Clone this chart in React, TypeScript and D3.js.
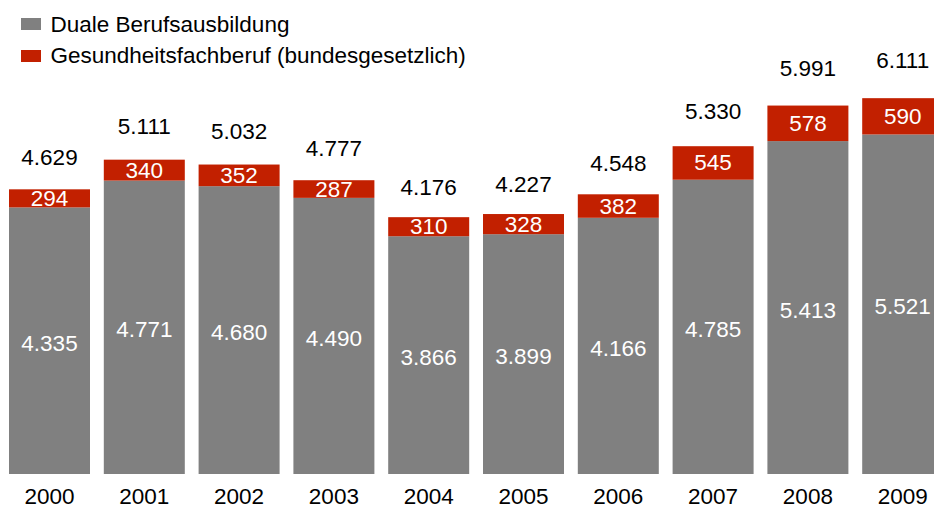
import React from "react";
import * as d3 from "d3";

const years = ["2000", "2001", "2002", "2003", "2004", "2005", "2006", "2007", "2008", "2009"];
const dual = [4335, 4771, 4680, 4490, 3866, 3899, 4166, 4785, 5413, 5521];
const health = [294, 340, 352, 287, 310, 328, 382, 545, 578, 590];
const seriesNames = ["Duale Berufsausbildung", "Gesundheitsfachberuf (bundesgesetzlich)"];

const W = 934;
const H = 509;
const GRAY = "#808080";
const RED = "#C22000";
const FONT = "'Liberation Sans', Arial, sans-serif";

const fmt = d3
  .formatLocale({ decimal: ",", thousands: ".", grouping: [3], currency: ["", "€"] })
  .format(",d");

export default function App() {
  const x = d3
    .scaleBand<string>()
    .domain(years)
    .range([2.1, 950.1])
    .paddingInner(0.1456)
    .paddingOuter(0.0728);
  const y = d3.scaleLinear().domain([0, 6500]).range([474, 474 - 0.0615 * 6500]);

  const rows = years.map((yr, i) => ({
    yr,
    dual: dual[i],
    health: health[i],
    total: dual[i] + health[i],
  }));

  return (
    <svg
      width={W}
      height={H}
      style={{ position: "absolute", left: 0, top: 0, background: "#fff" }}
      fontFamily={FONT}
      fontSize={22.5}
    >
      {/* legend */}
      <rect x={21} y={18} width={20} height={12} fill={GRAY} />
      <text x={50.5} y={31.5} fill="#000">{seriesNames[0]}</text>
      <rect x={21} y={50} width={20} height={12} fill={RED} />
      <text x={50.5} y={63} fill="#000">{seriesNames[1]}</text>

      {rows.map((r) => {
        const x0 = x(r.yr)!;
        const bw = x.bandwidth();
        const cx = x0 + bw / 2;
        const yDualTop = y(r.dual);
        const yTop = y(r.total);
        return (
          <g key={r.yr}>
            <rect x={x0} y={yDualTop} width={bw} height={y(0) - yDualTop} fill={GRAY} />
            <rect x={x0} y={yTop} width={bw} height={yDualTop - yTop} fill={RED} />
            <text x={cx} y={(yDualTop + y(0)) / 2 + 10} textAnchor="middle" fill="#fff">
              {fmt(r.dual)}
            </text>
            <text x={cx} y={(yTop + yDualTop) / 2 + 7.5} textAnchor="middle" fill="#fff">
              {fmt(r.health)}
            </text>
            <text x={cx} y={y(r.total * 1.067) - 4.8} textAnchor="middle" fill="#000">
              {fmt(r.total)}
            </text>
            <text x={cx} y={504} textAnchor="middle" fill="#000">
              {r.yr}
            </text>
          </g>
        );
      })}
    </svg>
  );
}
